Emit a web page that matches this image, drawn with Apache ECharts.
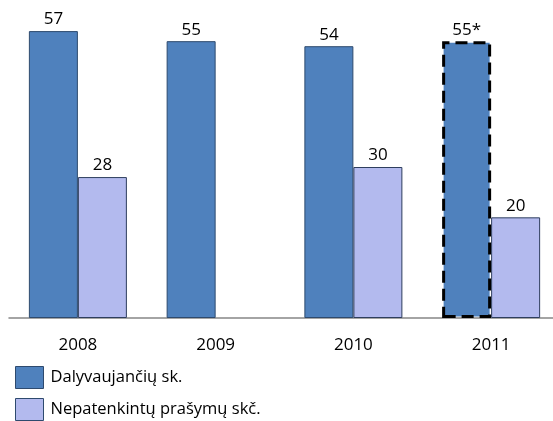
<!DOCTYPE html>
<html><head><meta charset="utf-8">
<script src="https://cdn.jsdelivr.net/npm/echarts@6/dist/echarts.min.js"></script>
<style>html,body{margin:0;padding:0;background:#fff}#c{width:553px;height:421px}</style>
</head><body><div id="c"></div>
<script>
var categories = ['2008', '2009', '2010', '2011'];
var participants = [57, 55, 54, 55];
var participantLabels = ['57', '55', '54', '55*'];
var unmetRequests = [28, null, 30, 20];
var seriesNames = ['Dalyvaujančių sk.', 'Nepatenkintų prašymų skč.'];

var font = 'Open Sans';
var chart = echarts.init(document.getElementById('c'));
var blueData = participants.map(function (v, i) {
  var d = { value: v };
  if (i === 3) {
    d.itemStyle = { borderColor: '#000', borderWidth: 3, borderType: [12, 6] };
  }
  return d;
});
chart.setOption({
  animation: false,
  grid: { left: 9, width: 551, top: 16, height: 302, outerBoundsMode: 'none', containLabel: false },
  legend: {
    orient: 'vertical', left: 15, top: 366, padding: 0,
    icon: 'rect', itemWidth: 28, itemHeight: 22, itemGap: 9,
    itemStyle: { borderColor: '#2e4a6e', borderWidth: 1 },
    textStyle: { fontFamily: font, fontSize: 16.5, color: '#000', padding: [0, 0, 0, 2] },
    data: seriesNames
  },
  xAxis: {
    type: 'category', data: categories,
    axisLine: { lineStyle: { color: '#868686', width: 1.5 } },
    axisTick: { show: false },
    axisLabel: { fontFamily: font, fontSize: 17, color: '#000', margin: 19 }
  },
  yAxis: { type: 'value', min: 0, max: 60, show: false, splitLine: { show: false } },
  series: [
    {
      name: seriesNames[0], type: 'bar', data: blueData, barWidth: 49, barGap: '0%',
      itemStyle: { color: '#4F81BD', borderColor: '#2e4a6e', borderWidth: 1 },
      label: {
        show: true, position: 'top', distance: 3, fontFamily: font, fontSize: 17, color: '#000',
        formatter: function (p) { return participantLabels[p.dataIndex]; }
      }
    },
    {
      name: seriesNames[1], type: 'bar', data: unmetRequests, barWidth: 49,
      itemStyle: { color: '#B3BAEE', borderColor: '#2e3e5e', borderWidth: 1 },
      label: { show: true, position: 'top', distance: 3, fontFamily: font, fontSize: 17, color: '#000' }
    }
  ]
});
</script></body></html>
